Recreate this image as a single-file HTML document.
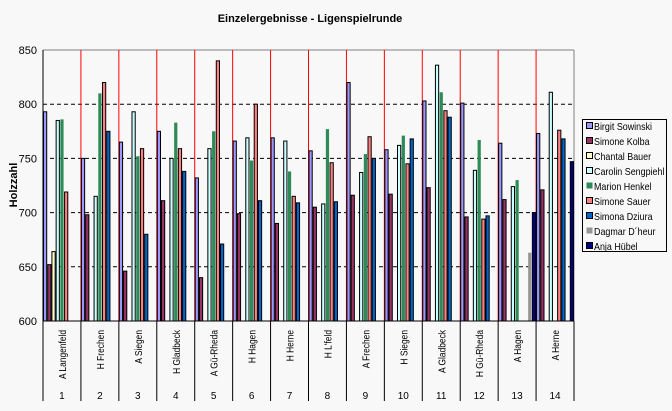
<!DOCTYPE html>
<html><head><meta charset="utf-8"><style>
body{margin:0;background:#f8f8f8;width:672px;height:406px;overflow:hidden;font-family:"Liberation Sans",sans-serif}
svg text{font-family:"Liberation Sans",sans-serif}
</style></head><body>
<svg id="c" width="672" height="406" xmlns="http://www.w3.org/2000/svg">
<rect width="672" height="406" fill="#f8f8f8"/>
<text x="310" y="22" text-anchor="middle" font-size="11" font-weight="bold">Einzelergebnisse - Ligenspielrunde</text>
<text transform="translate(17,185) rotate(-90)" text-anchor="middle" font-size="11" font-weight="bold">Holzzahl</text>
<g id="g"></g>
</svg>
<script>
const categories=["A Langenfeld","H Frechen","A Siegen","H Gladbeck","A Gü-Rheda","H Hagen","H Herne","H L'feld","A Frechen","H Siegen","A Gladbeck","H Gü-Rheda","A Hagen","A Herne"];
const seriesNames=["Birgit Sowinski","Simone Kolba","Chantal Bauer","Carolin Sengpiehl","Marion Henkel","Simone Sauer","Simona Dziura","Dagmar D´heur","Anja Hübel"];
const birgit=[793,750,765,775,732,766,769,757,820,758,803,801,764,773];
const kolba=[652,698,646,711,640,699,690,705,716,717,723,696,712,721];
const chantal=[664,null,null,null,null,null,null,null,null,null,null,null,null,null];
const carolin=[785,715,793,750,759,769,766,708,737,762,836,739,724,811];
const marion=[786,810,752,783,775,748,738,777,754,771,811,767,730,null];
const sauer=[719,820,759,759,840,800,715,746,770,745,794,694,null,776];
const dziura=[null,775,680,738,671,711,709,710,750,768,788,697,null,768];
const dagmar=[null,null,null,null,null,null,null,null,null,null,null,null,663,null];
const anja=[null,null,null,null,null,null,null,null,null,null,null,null,700,747];
const yTicks=[600,650,700,750,800,850];
const series=[birgit,kolba,chantal,carolin,marion,sauer,dziura,dagmar,anja];
const fills=["#9999ff","#993366","#ffffcc","#ccffff","#2e8b57","#ff8080","#0066cc","#969696","#000080"];
const strokes=["#000","#000","#000","#000","none","#000","#000","none","#000"];
const NS="http://www.w3.org/2000/svg";
const g=document.getElementById('g');
const L=43,R=574,T=50,B=321,ymin=600,ymax=850;
const cw=(R-L)/categories.length, bw=cw/series.length;
const y=v=>B-(v-ymin)/(ymax-ymin)*(B-T);
const x=i=>L+i*cw;
function el(t,a,p){const e=document.createElementNS(NS,t);for(const k in a)e.setAttribute(k,a[k]);(p||g).appendChild(e);return e;}
function squeeze(t,f){const w=t.getComputedTextLength();t.setAttribute('textLength',w*f);t.setAttribute('lengthAdjust','spacingAndGlyphs');}
yTicks.forEach(v=>{
 if(v>ymin&&v<ymax){const l=el('line',{x1:L,x2:R,y1:y(v),y2:y(v),stroke:'#000','stroke-dasharray':'4,3'});
 
 }
 const t=el('text',{x:37,y:y(v)+4,'text-anchor':'end','font-size':'11'});t.textContent=v;
 
 
});
el('line',{x1:L,x2:R,y1:T,y2:T,stroke:'#808080'});
el('line',{x1:R,x2:R,y1:T,y2:B,stroke:'#808080'});
for(let i=1;i<categories.length;i++){
 const l=el('line',{x1:x(i),x2:x(i),y1:T,y2:B,stroke:'#ff0000'});
 
 
}
series.forEach((s,si)=>{s.forEach((v,ci)=>{
 if(v==null)return;
 const r=el('rect',{x:x(ci)+si*bw+0.5,y:y(v),width:bw-1,height:B-y(v),fill:fills[si],stroke:strokes[si],'stroke-width':1});
 
 
});});
el('line',{x1:L,x2:L,y1:T,y2:B,stroke:'#000'});
el('line',{x1:L,x2:R,y1:B,y2:B,stroke:'#000'});
for(let i=0;i<=categories.length;i++)el('line',{x1:x(i),x2:x(i),y1:B,y2:401,stroke:'#000'});
categories.forEach((c,i)=>{
 const cx=x(i)+cw/2;
 const t=el('text',{transform:`translate(${cx+4},330) rotate(-90)`,'text-anchor':'end','font-size':'10.5'});t.textContent=c;
 squeeze(t,0.8);
 
 
 const n=el('text',{x:cx,y:399,'text-anchor':'middle','font-size':'10'});n.textContent=i+1;
 
 
});
const lg=el('g',{});


el('rect',{x:582.5,y:119.5,width:84,height:132,fill:'#f8f8f8',stroke:'#000'},lg);
seriesNames.forEach((n,i)=>{
 const cy=126+i*15;
 const e=el('g',{},lg);
 
 
 el('rect',{x:586.5,y:cy-3.5,width:6,height:6,fill:fills[i],stroke:strokes[i]=='none'?'none':'#000'},e);
 const t=el('text',{x:594,y:cy+4,'font-size':'10.5'},e);t.textContent=n;
 squeeze(t,0.85);
});
</script>
</body></html>
